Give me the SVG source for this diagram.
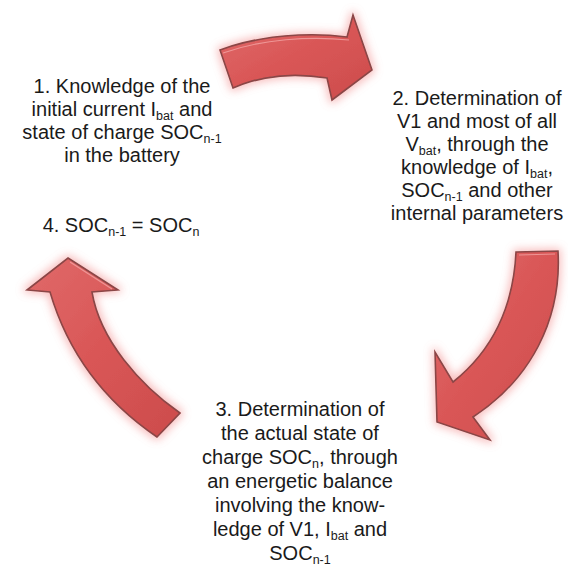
<svg xmlns="http://www.w3.org/2000/svg" width="568" height="568" viewBox="0 0 568 568">
<style>
text{font-family:"Liberation Sans",Arial,sans-serif;font-size:20px;fill:#1a1a1a;text-anchor:middle}
.s{font-size:12.5px}
.arrow{fill:url(#rg);stroke:#8a4646;stroke-width:1.6;stroke-linejoin:miter;filter:url(#glow)}
.hl{fill:none;stroke:#f2a4a4;stroke-width:1.2;opacity:.8}
</style>
<defs>
<linearGradient id="rg" x1="0" y1="0" x2="1" y2="1">
<stop offset="0" stop-color="#e06a6a"/>
<stop offset="0.5" stop-color="#d95656"/>
<stop offset="1" stop-color="#cc4c4c"/>
</linearGradient>
<filter id="glow" x="-30%" y="-30%" width="160%" height="160%">
<feMorphology in="SourceAlpha" operator="dilate" radius="2" result="d"/>
<feGaussianBlur in="d" stdDeviation="4.5" result="b"/>
<feFlood flood-color="#f28080" flood-opacity="0.5"/>
<feComposite in2="b" operator="in" result="g"/>
<feMerge><feMergeNode in="g"/><feMergeNode in="SourceGraphic"/></feMerge>
</filter>
</defs>
<rect width="568" height="568" fill="#ffffff"/>
<g id="connectors">
<path class="arrow" d="M220,50 C260,35 310,32 347,37 L353,15 L372,70 L332,100 L327,78 C290,72 260,76 233,88 Z"/>
<path class="hl" d="M223,53 C262,39 310,36 349,40"/>
<path class="arrow" d="M516,252 L558,251 C562,320 530,380 473,417 L490,440 L437,422 L435,352 L453,382 Q512,335 516,252 Z"/>
<path class="hl" d="M519,255 L555,254"/>
<path class="arrow" d="M68,258 L118,290 L92,292 C100,340 140,385 180,413 L157,437 C110,405 70,360 50,292 L27,290 Z"/>
<path class="hl" d="M70,262 L112,289"/>
</g>
<g id="node1">
<text x="122" y="93">1. Knowledge of the</text>
<text x="122" y="116">initial current I<tspan class="s" dy="4">bat</tspan><tspan dy="-4"> and</tspan></text>
<text x="122" y="139">state of charge SOC<tspan class="s" dy="4">n-1</tspan></text>
<text x="122" y="162">in the battery</text>
</g>
<g id="node2">
<text x="477" y="105">2. Determination of</text>
<text x="477" y="128">V1 and most of all</text>
<text x="477" y="151">V<tspan class="s" dy="4">bat</tspan><tspan dy="-4">, through the</tspan></text>
<text x="477" y="174">knowledge of I<tspan class="s" dy="4">bat</tspan><tspan dy="-4">,</tspan></text>
<text x="477" y="197">SOC<tspan class="s" dy="4">n-1</tspan><tspan dy="-4"> and other</tspan></text>
<text x="477" y="220">internal parameters</text>
</g>
<g id="node3">
<text x="300" y="416">3. Determination of</text>
<text x="300" y="440">the actual state of</text>
<text x="300" y="464">charge SOC<tspan class="s" dy="4">n</tspan><tspan dy="-4">, through</tspan></text>
<text x="300" y="488">an energetic balance</text>
<text x="300" y="512">involving the know-</text>
<text x="300" y="536">ledge of V1, I<tspan class="s" dy="4">bat</tspan><tspan dy="-4"> and</tspan></text>
<text x="300" y="560">SOC<tspan class="s" dy="4">n-1</tspan></text>
</g>
<g id="node4">
<text x="121" y="232">4. SOC<tspan class="s" dy="4">n-1</tspan><tspan dy="-4"> = SOC</tspan><tspan class="s" dy="4">n</tspan></text>
</g>
</svg>
